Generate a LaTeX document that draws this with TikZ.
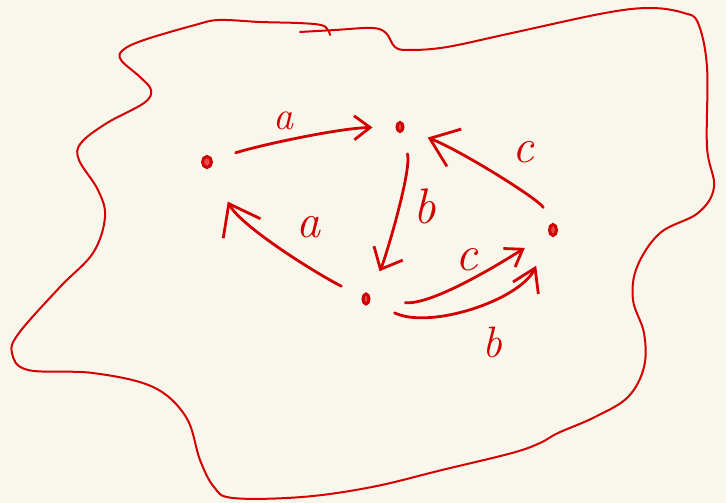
\documentclass[tikz,border=0pt]{standalone}
\usetikzlibrary{arrows.meta,shapes.geometric}
\definecolor{bgc}{RGB}{249,247,236}
\definecolor{ink}{RGB}{210,0,0}
\begin{document}
\begin{tikzpicture}[x=1pt,y=-1pt,
  blob/.style={draw=ink,line width=2pt,line cap=round,line join=round},
  state/.style={ellipse,draw=ink,line width=3pt,inner sep=0pt,fill=ink!70},
  edge/.style={draw=ink,line width=2.8pt,line cap=round,line join=round},
  lbl/.style={text=ink,inner sep=0pt}]
\fill[bgc] (0,0) rectangle (726,503);
\useasboundingbox (0,0) rectangle (726,503);
% outline
\draw[blob] plot[smooth,tension=0.6] coordinates {
 (300,32) (335,30) (372,28) (386,33) (395,47) (409,50) (447,47) (512,33)
 (605,13) (651,8) (684,13) (698,23) (707,67) (707,147) (714,187) (698,213)
 (660,233) (637,267) (633,300) (644,333) (644,367) (628,397) (595,417)
 (558,433) (540,443) (512,453) (442,470) (372,487) (302,497) (233,498)
 (214,487) (200,460) (186,417) (153,387) (93,373) (28,370) (12,353)
 (19,333) (60,287) (93,253) (105,217) (98,190) (79,160) (81,143) (107,123)
 (144,103) (151,90) (140,77) (121,60) (123,50) (144,40) (195,25) (219,20)
 (260,22) (298,23) (321,25) (328,30) (330,35)};
% states
\node[state,minimum width=9pt,minimum height=11pt] (A) at (207,162) {};
\node[state,minimum width=6pt,minimum height=9pt] (B) at (400,127) {};
\node[state,minimum width=6pt,minimum height=10pt] (C) at (366,299) {};
\node[state,minimum width=7pt,minimum height=11pt] (D) at (553,230) {};
% edges
\draw[edge,-{Straight Barb[length=16pt,width=24pt]},shorten <=24pt,shorten >=23pt]
  (A) .. controls (260,145) and (340,128) .. (B);
\draw[edge,-{Straight Barb[length=18pt,width=32pt]},shorten <=22pt,shorten >=25pt]
  (B) .. controls (412,170) and (385,260) .. (C);
\draw[edge,-{Straight Barb[length=26pt,width=40pt]},shorten <=18pt,shorten >=25pt]
  (D) .. controls (540,200) and (460,150) .. (B);
\draw[edge,-{Straight Barb[length=28pt,width=42pt]},shorten <=23pt,shorten >=38pt]
  (C) .. controls (310,270) and (240,225) .. (A);
\draw[edge,-{Straight Barb[length=16pt,width=22pt]},shorten <=35pt,shorten >=28pt]
  (C) .. controls (430,305) and (490,270) .. (D);
\draw[edge,-{Straight Barb[length=22pt,width=28pt]},shorten <=27pt,shorten >=33pt]
  (C) .. controls (430,330) and (520,300) .. (D);
% labels
\node[lbl,font=\fontsize{40}{40}\selectfont\itshape] (la1) at (283,121) {a};
\node[lbl,font=\fontsize{48}{48}\selectfont\itshape] (la2) at (308,227) {a};
\node[lbl,font=\fontsize{50}{50}\selectfont\itshape] (lb1) at (425,206) {b};
\node[lbl,font=\fontsize{44}{44}\selectfont\itshape] (lb2) at (492,342) {b};
\node[lbl,font=\fontsize{48}{48}\selectfont\itshape] (lc1) at (523,152) {c};
\node[lbl,font=\fontsize{50}{50}\selectfont\itshape] (lc2) at (467,260) {c};
\end{tikzpicture}
\end{document}
